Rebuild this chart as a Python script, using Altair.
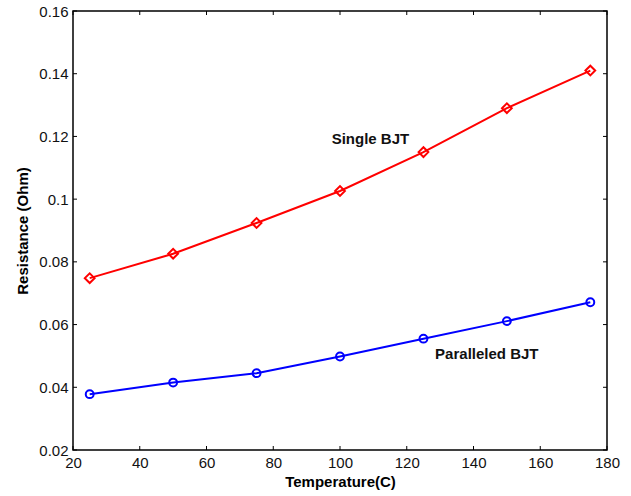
import altair as alt
import pandas as pd

temps = [25, 50, 75, 100, 125, 150, 175]
single_bjt = [0.0748, 0.0826, 0.0924, 0.1026, 0.1150, 0.1290, 0.1410]
paralleled_bjt = [0.0378, 0.0415, 0.0445, 0.0498, 0.0555, 0.0611, 0.0671]
series_names = ["Single BJT", "Paralleled BJT"]
x_ticks = [20, 40, 60, 80, 100, 120, 140, 160, 180]
y_ticks = [0.02, 0.04, 0.06, 0.08, 0.10, 0.12, 0.14, 0.16]
label_text = ["Single BJT", "Paralleled BJT"]
label_x = [97.5, 128.5]
label_y = [0.1192, 0.0506]

W, H = 534, 439

df = pd.DataFrame({
    "T": temps + temps,
    "R": single_bjt + paralleled_bjt,
    "series": [series_names[0]] * len(temps) + [series_names[1]] * len(temps),
})
xt = pd.DataFrame({"T": x_ticks})
yt = pd.DataFrame({"R": y_ticks})
lab = pd.DataFrame({"T": label_x, "R": label_y, "txt": label_text})

FONT = "Liberation Sans"
xscale = alt.Scale(domain=[20, 180], nice=False, zero=False)
yscale = alt.Scale(domain=[0.02, 0.16], nice=False, zero=False)
xaxis = alt.Axis(values=x_ticks, ticks=False, domain=False, grid=False, labelFlush=False,
                 labelOverlap=False,
                 labelFont=FONT, labelFontSize=15, labelColor="#111111", labelPadding=5,
                 titleFont=FONT, titleFontSize=15, titleFontWeight="bold",
                 titleColor="black", titlePadding=4)
yaxis = alt.Axis(values=y_ticks, ticks=False, domain=False, grid=False, format="~g",
                 labelFlush=False, labelOverlap=False,
                 labelFont=FONT, labelFontSize=15, labelColor="#111111", labelPadding=5,
                 titleFont=FONT, titleFontSize=15, titleFontWeight="bold",
                 titleColor="black", titlePadding=8)

X = alt.X("T:Q", scale=xscale, axis=xaxis, title="Temperature(C)")
Y = alt.Y("R:Q", scale=yscale, axis=yaxis, title="Resistance (Ohm)")
color = alt.Color("series:N", scale=alt.Scale(domain=series_names, range=["#ff0000", "#0000ff"]), legend=None)
shape = alt.Shape("series:N", scale=alt.Scale(domain=series_names, range=["diamond", "circle"]), legend=None)
size = alt.Size("series:N", scale=alt.Scale(domain=series_names, range=[95, 62]), legend=None)

lines = alt.Chart(df).mark_line(strokeWidth=2).encode(x=X, y=Y, color=color, detail="series:N")
points = alt.Chart(df).mark_point(strokeWidth=2, filled=False, opacity=1).encode(
    x=X, y=Y, color=color, shape=shape, size=size)

tb = alt.Chart(xt).mark_rule(color="black", strokeWidth=1).encode(x=X, y=alt.value(H), y2=alt.value(H - 4))
tt = alt.Chart(xt).mark_rule(color="black", strokeWidth=1).encode(x=X, y=alt.value(0), y2=alt.value(4))
tl = alt.Chart(yt).mark_rule(color="black", strokeWidth=1).encode(y=Y, x=alt.value(0), x2=alt.value(4))
tr = alt.Chart(yt).mark_rule(color="black", strokeWidth=1).encode(y=Y, x=alt.value(W), x2=alt.value(W - 4))

texts = alt.Chart(lab).mark_text(align="left", baseline="middle", font=FONT, fontSize=15,
                                 fontWeight="bold", color="#111111").encode(x=X, y=Y, text="txt:N")

chart = alt.layer(lines, points, tb, tt, tl, tr, texts).properties(
    width=W, height=H,
    autosize=alt.AutoSizeParams(type="none"),
    padding={"left": 73, "top": 11, "right": 24, "bottom": 46},
    background="white",
).configure_view(stroke="black", strokeWidth=1.5)

chart.save("out.html", embed_options={"renderer": "svg", "actions": False})
